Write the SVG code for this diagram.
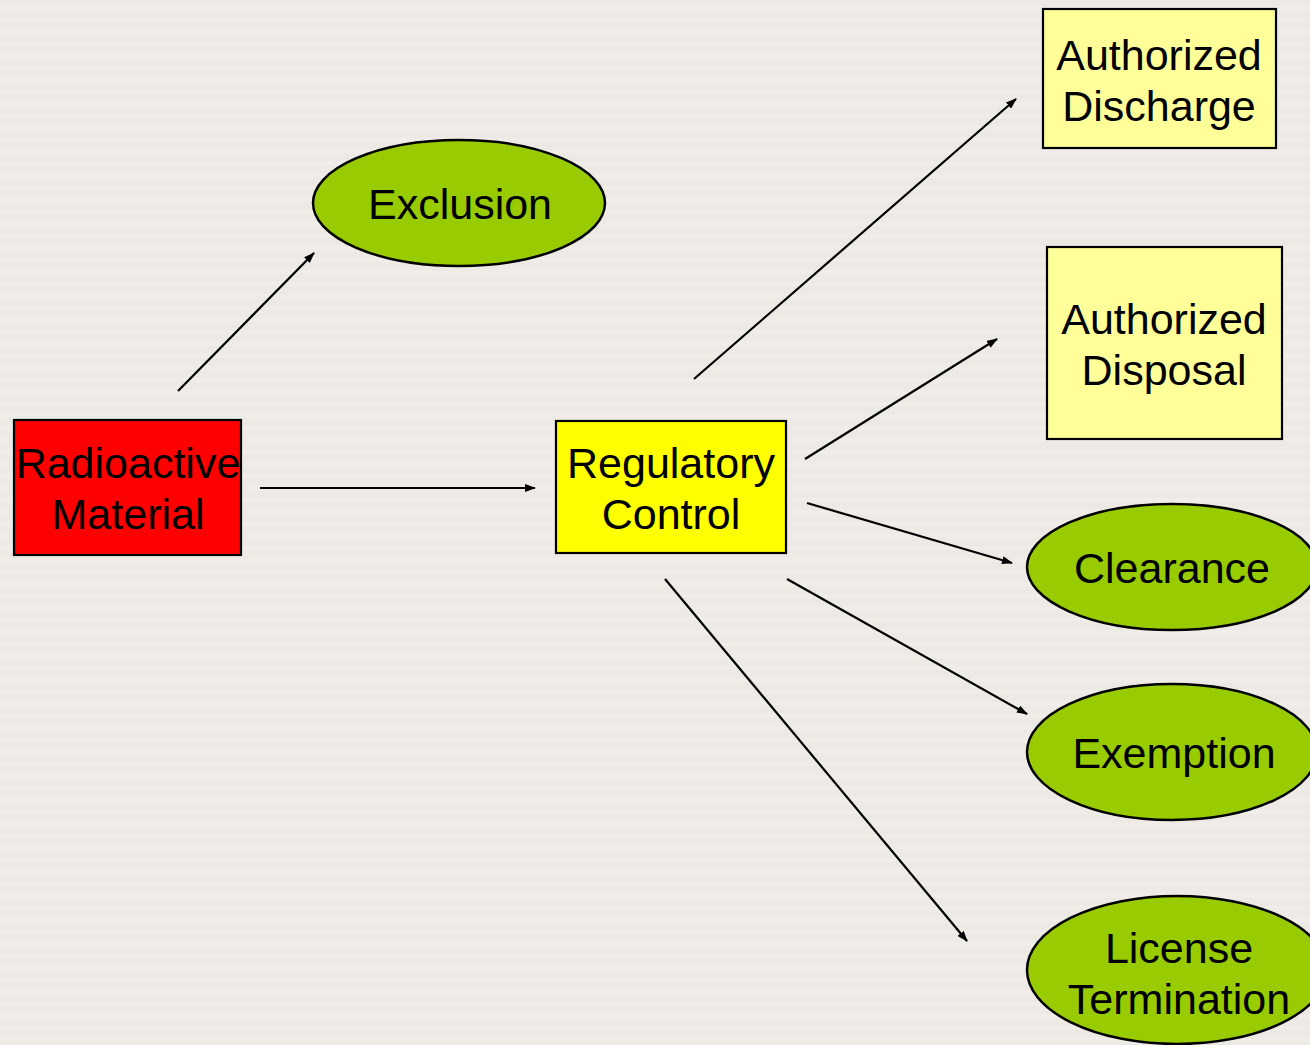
<svg xmlns="http://www.w3.org/2000/svg" width="1310" height="1045" viewBox="0 0 1310 1045">
<defs>
<style>
.t{font-family:"Liberation Sans",Arial,sans-serif;font-size:43px;fill:#000;text-anchor:middle}
.ell{fill:#99CC00;stroke:#000;stroke-width:2.5}
.box{stroke:#000;stroke-width:2.2}
.c{stroke:#000;stroke-width:2.2;fill:none;marker-end:url(#ah)}
</style>
<marker id="ah" viewBox="0 0 11 8" refX="10" refY="4" markerWidth="11" markerHeight="8" markerUnits="userSpaceOnUse" orient="auto">
<path d="M0,0 L11,4 L0,8 Z" fill="#000"/>
</marker>
<pattern id="bg" width="10" height="12" patternUnits="userSpaceOnUse">
<rect width="10" height="12" fill="#EDEAE5"/>
<rect y="6" width="10" height="4" fill="#F0EDE9"/>
</pattern>
</defs>
<rect width="1310" height="1045" fill="url(#bg)"/>
<g id="connectors">
<line class="c" x1="178" y1="391" x2="314" y2="253"/>
<line class="c" x1="260" y1="488" x2="535" y2="488"/>
<line class="c" x1="694" y1="379" x2="1016" y2="99"/>
<line class="c" x1="805" y1="459" x2="997" y2="339"/>
<line class="c" x1="807" y1="503" x2="1012" y2="563"/>
<line class="c" x1="787" y1="579" x2="1027" y2="714"/>
<line class="c" x1="665" y1="579" x2="967" y2="941"/>
</g>
<g id="radioactive">
<rect class="box" x="14" y="420" width="227" height="135" fill="#FF0000"/>
<text class="t" x="128" y="478">Radioactive</text>
<text class="t" x="128" y="529">Material</text>
</g>
<g id="exclusion">
<ellipse class="ell" cx="459" cy="203" rx="146" ry="63"/>
<text class="t" x="460" y="219">Exclusion</text>
</g>
<g id="regulatory">
<rect class="box" x="556" y="421" width="230" height="132" fill="#FFFF00"/>
<text class="t" x="671" y="478">Regulatory</text>
<text class="t" x="671" y="529">Control</text>
</g>
<g id="discharge">
<rect class="box" x="1043" y="9" width="233" height="139" fill="#FFFF99"/>
<text class="t" x="1159" y="70">Authorized</text>
<text class="t" x="1159" y="121">Discharge</text>
</g>
<g id="disposal">
<rect class="box" x="1047" y="247" width="235" height="192" fill="#FFFF99"/>
<text class="t" x="1164" y="334">Authorized</text>
<text class="t" x="1164" y="385">Disposal</text>
</g>
<g id="clearance">
<ellipse class="ell" cx="1172" cy="567" rx="145" ry="63"/>
<text class="t" x="1172" y="583">Clearance</text>
</g>
<g id="exemption">
<ellipse class="ell" cx="1172" cy="752" rx="145" ry="68"/>
<text class="t" x="1174" y="768">Exemption</text>
</g>
<g id="license">
<ellipse class="ell" cx="1177" cy="970" rx="150" ry="74"/>
<text class="t" x="1179" y="963">License</text>
<text class="t" x="1179" y="1014">Termination</text>
</g>
</svg>
